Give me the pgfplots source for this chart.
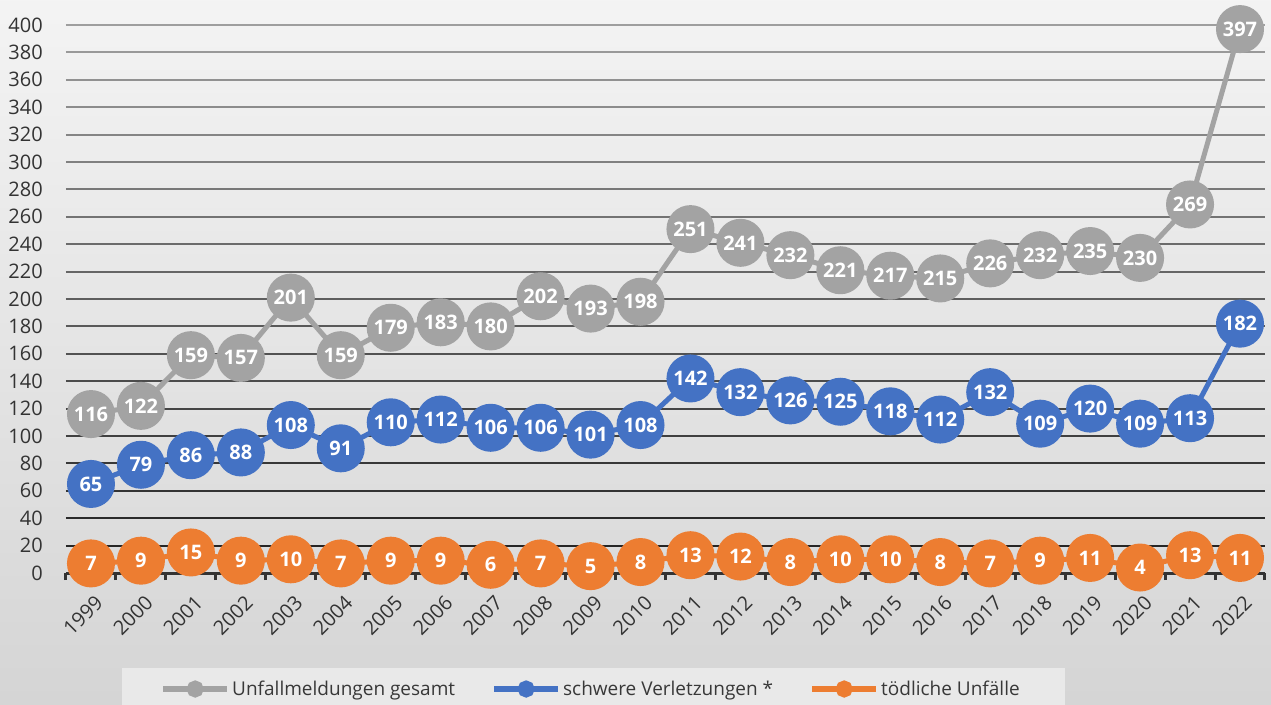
\documentclass[border=0pt]{standalone}
\usepackage{pgfplots}
\pgfplotsset{compat=1.18}
\usepackage{fontspec}
\setmainfont{Open Sans}

\definecolor{cgray}{HTML}{A3A3A3}
\definecolor{cblue}{HTML}{4472C4}
\definecolor{corange}{HTML}{ED7D31}

\begin{document}
\begin{tikzpicture}
% background and legend panel (1px = 1pt, axis origin at px (66,573))
\shade[top color=gray!9, bottom color=gray!33] (-66pt,-131pt) rectangle (1205pt,573pt);
\fill[gray!17] (56pt,-133pt) rectangle (999pt,-95pt);

\begin{axis}[
    at={(0pt,0pt)}, anchor=south west,
    scale only axis, width=1199pt, height=548pt,
    xmin=-0.5, xmax=23.5, ymin=0, ymax=400,
    clip=false,
    /pgf/number format/assume math mode=true,
    axis x line*=bottom, axis y line*=left,
    y axis line style={draw=none},
    x axis line style={draw=black!80, line width=3pt},
    xtick={0,...,23},
    xticklabels={1999,2000,2001,2002,2003,2004,2005,2006,2007,2008,2009,2010,
                 2011,2012,2013,2014,2015,2016,2017,2018,2019,2020,2021,2022},
    minor xtick={-0.5,0.5,...,23.5},
    ytick={0,20,...,400},
    major tick length=0pt, minor tick length=7pt, tick align=outside,
    minor tick style={draw=black!80, line width=3pt},
    ticklabel style={text=black!80},
    yticklabel style={inner sep=0pt, xshift=-23pt, font=\fontsize{20}{24}\selectfont},
    xticklabel style={xshift=3pt, yshift=-21pt, rotate=45, anchor=north east, inner sep=0pt,
        font=\fontsize{20}{24}\selectfont},
    every axis plot/.append style={line width=5pt, mark=*, mark size=21.5pt},
    nodes near coords,
    every node near coord/.append style={anchor=center, text=white,
        font=\bfseries\fontsize{20}{24}\selectfont},
    legend columns=3,
    legend style={at={(0.0784,-0.2117)}, anchor=west, fill=none, draw=none,
        inner sep=0pt, font=\fontsize{19}{22}\selectfont, text=black!78,
        /tikz/every even column/.append style={column sep=34pt}},
    legend image code/.code={
        \draw[#1, line width=6pt, mark size=5.5pt, mark repeat=2, mark phase=2]
            plot coordinates {(0pt,0pt) (32pt,0pt) (64pt,0pt)};
    },
]

% grid lines, darker towards the bottom
\pgfplotsinvokeforeach{1,...,20}{
    \draw[line width=2pt, black!\the\numexpr 88-#1*5/2\relax]
        (axis cs:-0.5,#1*20) -- (axis cs:23.5,#1*20);
}

% Unfallmeldungen gesamt
\addplot[color=cgray] coordinates {
    (0,116) (1,122) (2,159) (3,157) (4,201) (5,159) (6,179) (7,183)
    (8,180) (9,202) (10,193) (11,198) (12,251) (13,241) (14,232) (15,221)
    (16,217) (17,215) (18,226) (19,232) (20,235) (21,230) (22,269) (23,397)
};

% schwere Verletzungen
\addplot[color=cblue] coordinates {
    (0,65) (1,79) (2,86) (3,88) (4,108) (5,91) (6,110) (7,112)
    (8,106) (9,106) (10,101) (11,108) (12,142) (13,132) (14,126) (15,125)
    (16,118) (17,112) (18,132) (19,109) (20,120) (21,109) (22,113) (23,182)
};

% toedliche Unfaelle
\addplot[color=corange] coordinates {
    (0,7) (1,9) (2,15) (3,9) (4,10) (5,7) (6,9) (7,9)
    (8,6) (9,7) (10,5) (11,8) (12,13) (13,12) (14,8) (15,10)
    (16,10) (17,8) (18,7) (19,9) (20,11) (21,4) (22,13) (23,11)
};

\legend{Unfallmeldungen gesamt, schwere Verletzungen *, tödliche Unfälle}
\end{axis}

\pgfresetboundingbox
\useasboundingbox (-66pt,-131pt) rectangle (1205pt,573pt);
\end{tikzpicture}
\end{document}
